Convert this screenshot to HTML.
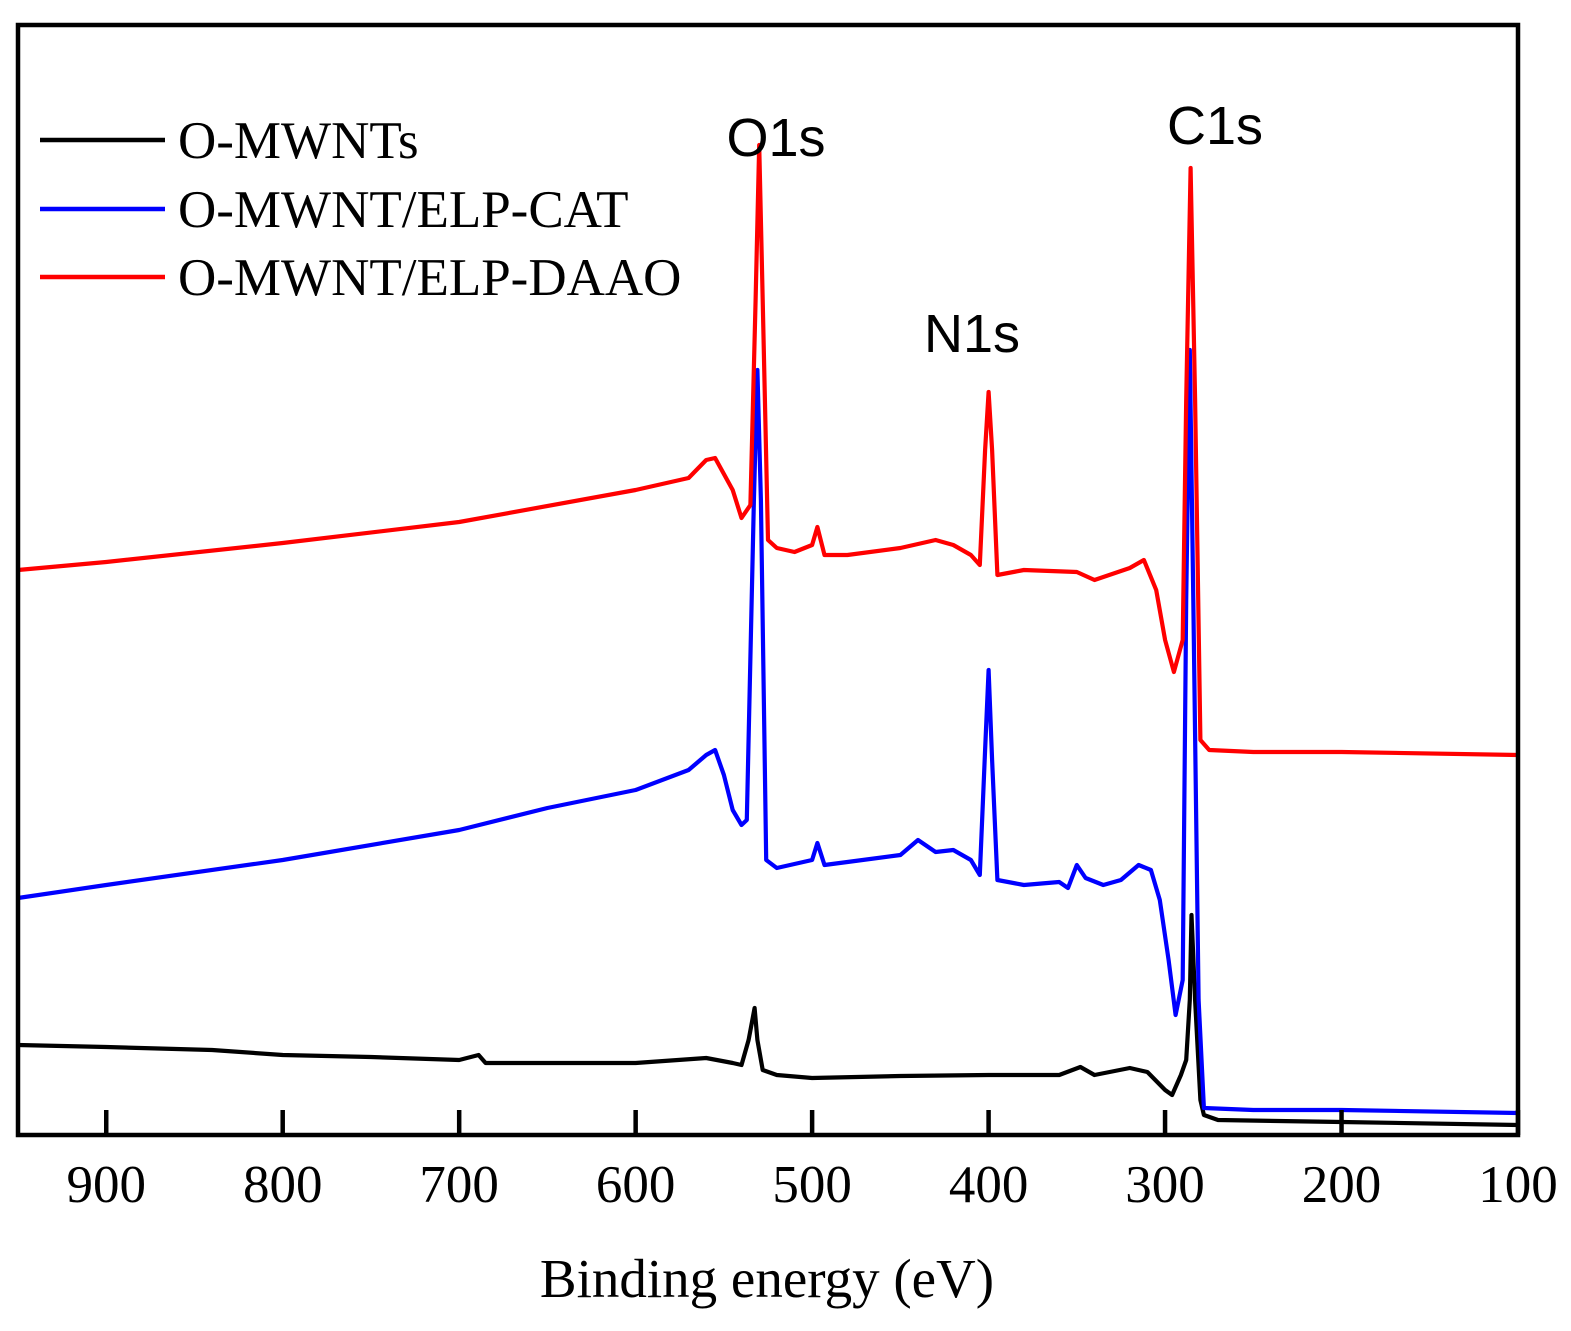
<!DOCTYPE html>
<html><head><meta charset="utf-8"><style>
html,body{margin:0;padding:0;background:#fff;}
svg{display:block;}
</style></head><body>
<svg id="chart" width="1571" height="1331" viewBox="0 0 1571 1331" xmlns="http://www.w3.org/2000/svg"></svg>
<script>
const tickLabels = [900, 800, 700, 600, 500, 400, 300, 200, 100];
const seriesNames = ["O-MWNTs", "O-MWNT/ELP-CAT", "O-MWNT/ELP-DAAO"];
const redE = [950,900,800,700,600,570,560,555,545,540,535,532,530,528,525,520,510,500,497,493,480,450,430,420,410,405,402,400,398,395,380,350,340,320,312,305,300,295,290,288,285.5,283,280,275,250,200,100];
const redI = [565,573,592,613,645,657,675,677,645,617,630,835,990,835,595,587,583,590,608,580,580,587,595,590,580,570,685,743,685,560,565,563,555,567,575,545,495,463,495,735,967,735,395,385,383,383,380];
const blueE = [950,900,800,700,650,600,570,560,555,550,545,540,537,533,531,529,526,520,500,497,493,480,450,440,430,420,410,405,402,400,398,395,380,360,355,350,345,335,325,315,308,303,298,294,290,288,286,284,281,278,250,200,100];
const blueI = [237,250,275,305,327,345,365,380,385,360,325,310,315,635,765,635,275,267,275,292,270,273,280,295,283,285,275,260,385,465,375,255,250,253,247,270,257,250,255,270,265,235,175,120,155,535,785,535,135,27,25,25,22];
const blackE = [950,900,840,800,750,700,689,685,600,560,545,540,536,532.6,531,528,520,500,450,400,360,348,340,320,310,300,296,291,288,286,285,283,280,278,270,200,100];
const blackI = [90,88,85,80,78,75,80,72,72,77,72,70,95,127,95,65,60,57,59,60,60,68,60,67,63,45,40,60,75,135,220,135,35,20,15,13,10];

const svg = document.getElementById('chart');
const NS = 'http://www.w3.org/2000/svg';
const L = 18, R = 1518, T = 25, B = 1135;
const xS = e => L + (950 - e) * (R - L) / 850;
const yS = v => B - v;
function mk(tag, attrs, parent) {
  const el = document.createElementNS(NS, tag);
  for (const k in attrs) el.setAttribute(k, attrs[k]);
  (parent || svg).appendChild(el);
  return el;
}
const cols = ["#000000", "#0000ff", "#ff0000"];
const data = [[blackE, blackI], [blueE, blueI], [redE, redI]];
const names = ['series-o-mwnts', 'series-o-mwnt-elp-cat', 'series-o-mwnt-elp-daao'];
for (let s = 0; s < 3; s++) {
  const [E, I] = data[s];
  const d = E.map((e, i) => (i ? 'L' : 'M') + xS(e).toFixed(1) + ',' + yS(I[i]).toFixed(1)).join(' ');
  const p = mk('path', {d: d, fill: 'none', stroke: cols[s], 'stroke-width': 4.2, 'stroke-linejoin': 'round'});
  
  
}
const fr = mk('rect', {x: L, y: T, width: R - L, height: B - T, fill: 'none', stroke: '#000', 'stroke-width': 4.5});


tickLabels.forEach(t => {
  const x = xS(t);
  const tk = mk('line', {x1: x, x2: x, y1: B, y2: B - 25, stroke: '#000', 'stroke-width': 4.5});
  
  
  const tl = mk('text', {x: x, y: 1202, 'text-anchor': 'middle', 'font-family': 'Liberation Serif, serif', 'font-size': 53});
  tl.textContent = t;
  
  
});
const xt = mk('text', {x: 767, y: 1297, 'text-anchor': 'middle', 'font-family': 'Liberation Serif, serif', 'font-size': 55});
xt.textContent = 'Binding energy (eV)';


const ly = [140, 209, 277];
for (let s = 0; s < 3; s++) {
  const ln = mk('line', {x1: 40, x2: 165, y1: ly[s], y2: ly[s], stroke: cols[s], 'stroke-width': 4.5});
  
  
  const lt = mk('text', {x: 178, y: ly[s] + 18, 'font-family': 'Liberation Serif, serif', 'font-size': 53});
  lt.textContent = seriesNames[s];
  
  
}
[['O1s', 776, 156], ['N1s', 972, 352], ['C1s', 1215, 144]].forEach(([t, x, y]) => {
  const el = mk('text', {x: x, y: y, 'text-anchor': 'middle', 'font-family': 'Liberation Sans, sans-serif', 'font-size': 54});
  el.textContent = t;
  
  
});
</script>
</body></html>
